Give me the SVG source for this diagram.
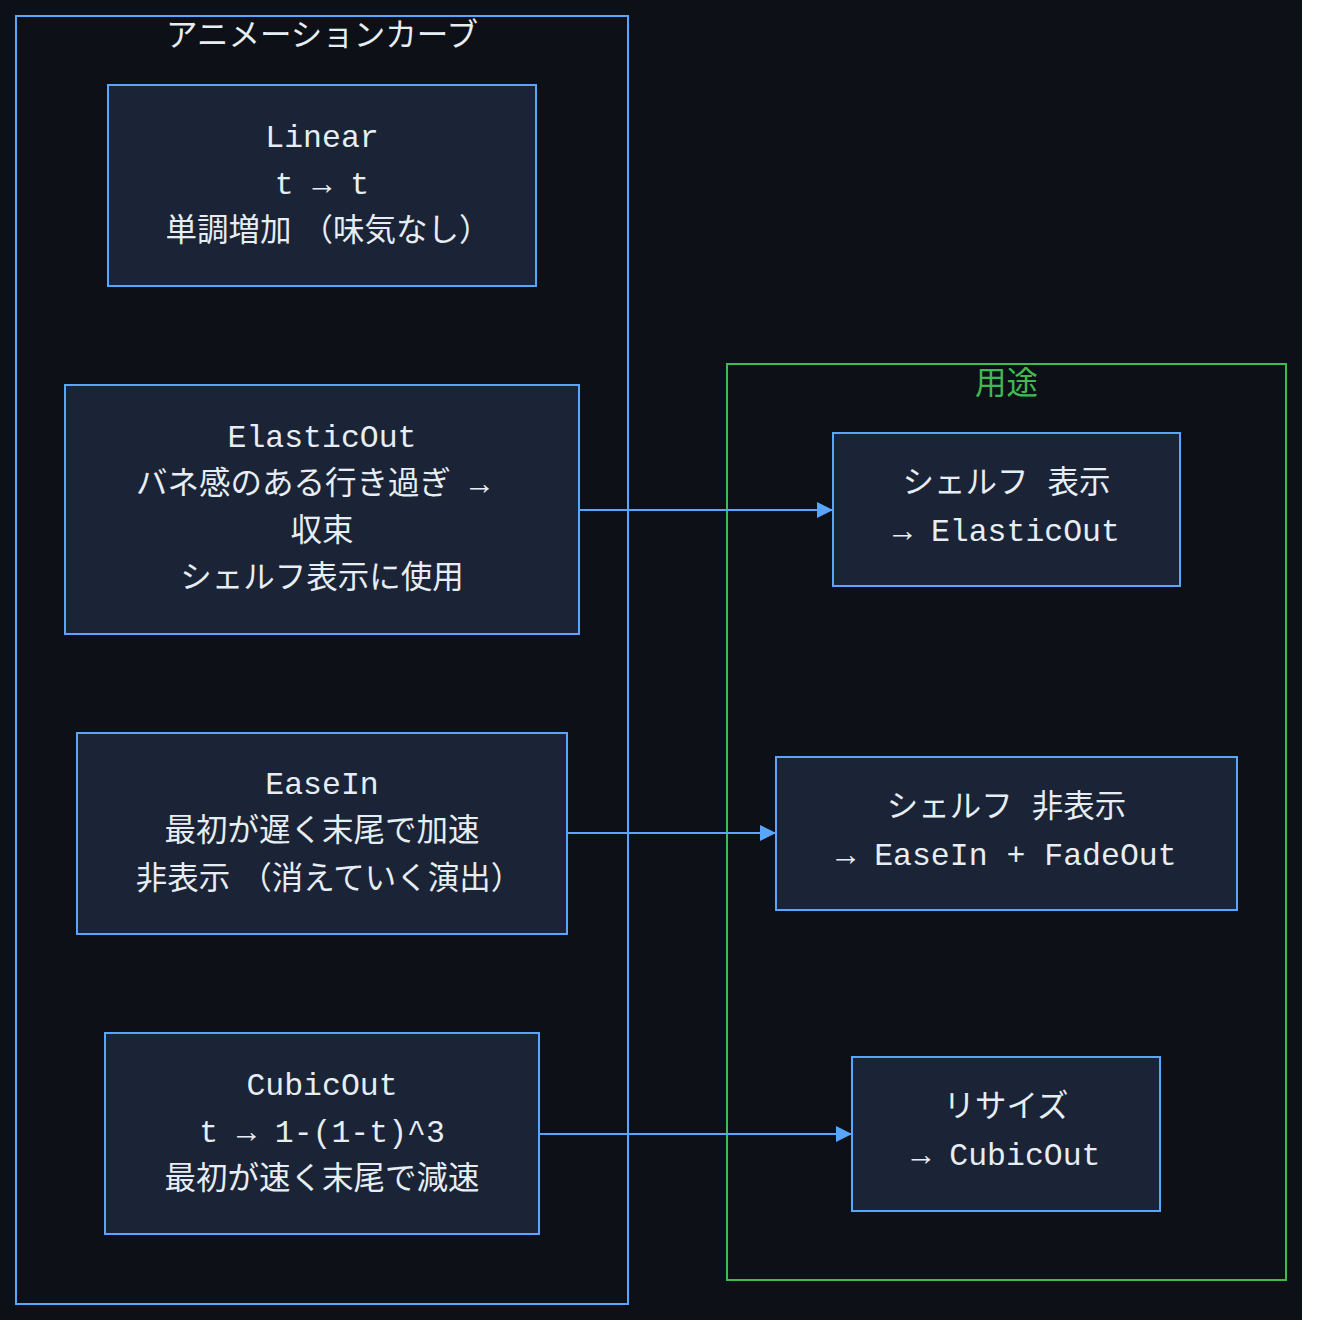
<svg xmlns="http://www.w3.org/2000/svg" width="1318" height="1336" viewBox="0 0 1318 1336">
<style>
.bg{fill:#0d1117}
.cl{fill:none;stroke:#58a6ff;stroke-width:2}
.clg{fill:none;stroke:#3fb950;stroke-width:2}
.nd{fill:#1b2336;stroke:#58a6ff;stroke-width:2}
.jp{font-family:"Noto Sans CJK JP",sans-serif;font-size:31.5px;fill:#e6edf3;text-anchor:middle}
.mo{font-family:"Liberation Mono","Noto Sans CJK JP",monospace;font-size:31.5px;fill:#e6edf3;text-anchor:middle}
.st{text-anchor:start}
.tg{fill:#3fb950}
.ed{fill:none;stroke:#58a6ff;stroke-width:2}
</style>
<defs>
<marker id="ah" viewBox="0 0 16 16" refX="16" refY="8" markerWidth="16" markerHeight="16" markerUnits="userSpaceOnUse" orient="auto">
<path d="M0,0 L16,8 L0,16 z" fill="#58a6ff"/>
</marker>
</defs>
<rect x="0" y="0" width="1318" height="1336" fill="#ffffff"/>
<rect class="bg" x="0" y="0" width="1302" height="1320"/>
<g id="cluster-curves">
<rect class="cl" x="16" y="16" width="612" height="1288"/>
<text class="jp" x="322" y="46">アニメーションカーブ</text>
</g>
<g id="cluster-usage">
<rect class="clg" x="727" y="364" width="559" height="916"/>
<text class="jp tg" x="1006.5" y="394">用途</text>
</g>
<g id="edges">
<path class="ed" d="M579,510 L833,510" marker-end="url(#ah)"/>
<path class="ed" d="M567,833 L776,833" marker-end="url(#ah)"/>
<path class="ed" d="M539,1134 L852,1134" marker-end="url(#ah)"/>
</g>
<g id="linear">
<rect class="nd" x="108" y="85" width="428" height="201"/>
<text class="mo" x="322" y="147">Linear</text>
<text class="mo" x="322" y="194">t → t</text>
<text class="jp" x="328" y="241" style="word-spacing:3px">単調増加 （味気なし）</text>
</g>
<g id="elasticout">
<rect class="nd" x="65" y="385" width="514" height="249"/>
<text class="mo" x="322" y="447">ElasticOut</text>
<text class="jp" x="136" y="494" style="text-anchor:start">バネ感のある行き過ぎ <tspan x="470" style="font-family:'Liberation Mono',monospace">→</tspan></text>
<text class="jp" x="322" y="541">収束</text>
<text class="jp" x="322" y="588">シェルフ表示に使用</text>
</g>
<g id="easein">
<rect class="nd" x="77" y="733" width="490" height="201"/>
<text class="mo" x="322" y="794">EaseIn</text>
<text class="jp" x="322" y="841">最初が遅く末尾で加速</text>
<text class="jp" x="329" y="889" style="word-spacing:3px">非表示 （消えていく演出）</text>
</g>
<g id="cubicout">
<rect class="nd" x="105" y="1033" width="434" height="201"/>
<text class="mo" x="322" y="1095">CubicOut</text>
<text class="mo" x="322" y="1142">t → 1-(1-t)^3</text>
<text class="jp" x="322" y="1189">最初が速く末尾で減速</text>
</g>
<g id="shelf-show">
<rect class="nd" x="833" y="433" width="347" height="153"/>
<text class="jp" x="1006.5" y="493" style="word-spacing:12px">シェルフ 表示</text>
<text class="mo" x="1006.5" y="541">→ ElasticOut</text>
</g>
<g id="shelf-hide">
<rect class="nd" x="776" y="757" width="461" height="153"/>
<text class="jp" x="1006.5" y="817" style="word-spacing:12px">シェルフ 非表示</text>
<text class="mo" x="1006.5" y="865">→ EaseIn + FadeOut</text>
</g>
<g id="resize">
<rect class="nd" x="852" y="1057" width="308" height="154"/>
<text class="jp" x="1006" y="1117">リサイズ</text>
<text class="mo" x="1006" y="1165">→ CubicOut</text>
</g>
</svg>
